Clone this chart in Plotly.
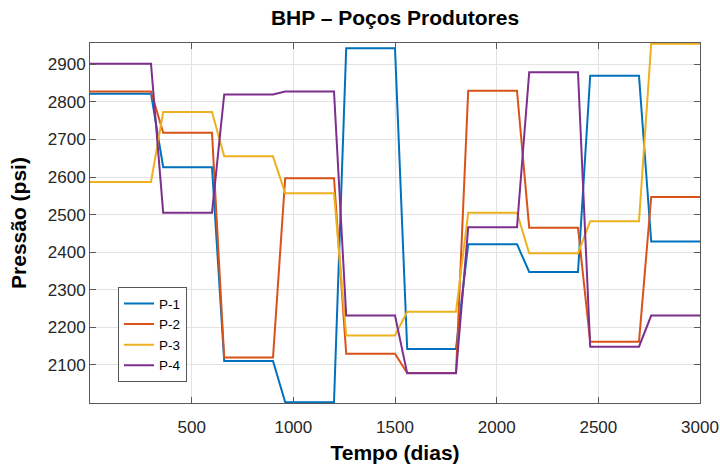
import plotly.graph_objects as go

# Time (days)
tempo = [0, 300, 360, 600, 660, 900, 960, 1200, 1260, 1500, 1560, 1800,
         1860, 2100, 2160, 2400, 2460, 2700, 2760, 3000]

p1 = [2822, 2822, 2626, 2626, 2110, 2110, 2000, 2000, 2943, 2943,
      2142, 2142, 2421, 2421, 2347, 2347, 2870, 2870, 2428, 2428]
p2 = [2828, 2828, 2718, 2718, 2119, 2119, 2597, 2597, 2129, 2129,
      2078, 2078, 2830, 2830, 2465, 2465, 2161, 2161, 2547, 2547]
p3 = [2587, 2587, 2773, 2773, 2655, 2655, 2557, 2557, 2178, 2178,
      2241, 2241, 2505, 2505, 2397, 2397, 2482, 2482, 2955, 2955]
p4 = [2902, 2902, 2505, 2505, 2820, 2820, 2828, 2828, 2231, 2231,
      2077, 2077, 2466, 2466, 2879, 2879, 2148, 2148, 2231, 2231]

series_names = ["P-1", "P-2", "P-3", "P-4"]
series_vals = [p1, p2, p3, p4]
colors = ["#0072BD", "#D95319", "#EDB120", "#7E2F8E"]

x_ticks = [500, 1000, 1500, 2000, 2500, 3000]
y_ticks = [2100, 2200, 2300, 2400, 2500, 2600, 2700, 2800, 2900]

FONT = "Liberation Sans, Arial, sans-serif"

fig = go.Figure()
for name, vals, c in zip(series_names, series_vals, colors):
    fig.add_trace(go.Scatter(x=tempo, y=vals, mode="lines", name=name,
                             line=dict(color=c, width=2)))

axis_common = dict(
    showline=True, linecolor="#5a5a5a", linewidth=1, mirror="ticks",
    ticks="inside", ticklen=6, tickcolor="#5a5a5a", tickwidth=1,
    showgrid=True, gridcolor="#e2e2e2", gridwidth=1, zeroline=False,
    tickfont=dict(family=FONT, size=17, color="#262626"),
    automargin=False,
)

fig.update_layout(
    width=720, height=465,
    margin=dict(l=90, r=20, t=43, b=62),
    paper_bgcolor="white", plot_bgcolor="white",
    title=dict(text="<b>BHP – Poços Produtores</b>", x=0.5, xref="paper",
               xanchor="center", y=1 - 18 / 465, yref="container", yanchor="middle",
               font=dict(family=FONT, size=21, color="black")),
    xaxis=dict(range=[0, 3000], tickvals=x_ticks, ticklabelstandoff=9,
               title=dict(text="<b>Tempo (dias)</b>", standoff=8,
                          font=dict(family=FONT, size=21, color="black")),
               **axis_common),
    yaxis=dict(range=[1998, 2957], tickvals=y_ticks,
               title=dict(text="<b>Pressão (psi)</b>", standoff=15,
                          font=dict(family=FONT, size=21, color="black")),
               **axis_common),
    legend=dict(x=(118 - 90) / 610, y=(402.7 - 382) / 360, xref="paper", yref="paper",
                xanchor="left", yanchor="bottom",
                bgcolor="white", bordercolor="#555555", borderwidth=1,
                font=dict(family=FONT, size=13.5, color="black"),
                itemwidth=30, tracegroupgap=0),
    showlegend=True,
)

fig.write_html("out.html")
